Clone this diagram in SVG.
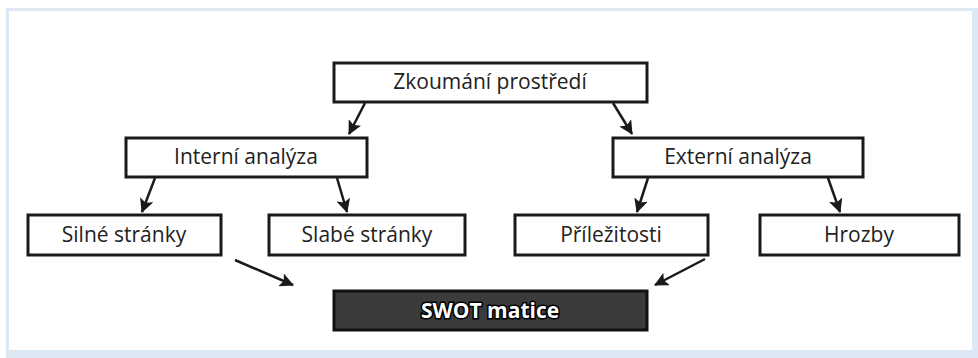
<svg xmlns="http://www.w3.org/2000/svg" width="978" height="358" viewBox="0 0 978 358">
<style>
.box{fill:#fff;stroke:#1a1a1a;stroke-width:3}
.dark{fill:#3b3b3b;stroke:#111;stroke-width:3}
.t{font-family:"Open Sans","Liberation Sans",sans-serif;font-size:21px;fill:#222;text-anchor:middle}
.tw{font-family:"Open Sans","Liberation Sans",sans-serif;font-size:21px;font-weight:bold;fill:#fff;stroke:#000;stroke-width:3;paint-order:stroke;text-anchor:middle}
.c{fill:none;stroke:#1a1a1a;stroke-width:2.5;marker-end:url(#ah)}
</style>
<defs>
<marker id="ah" viewBox="0 0 14 14" refX="13" refY="7" markerWidth="14" markerHeight="14" markerUnits="userSpaceOnUse" orient="auto">
<path d="M0,0 L14,7 L0,14 L3,7 Z" fill="#1a1a1a"/>
</marker>
</defs>
<rect x="0" y="0" width="978" height="358" fill="#fff"/>
<rect x="6" y="8" width="972" height="350" fill="#dce8f4"/>
<rect x="9" y="11" width="963" height="339" fill="#fff"/>
<g id="connectors">
<line class="c" x1="365" y1="103" x2="349" y2="134"/>
<line class="c" x1="613" y1="103" x2="632" y2="134"/>
<line class="c" x1="155" y1="178" x2="142" y2="212"/>
<line class="c" x1="337" y1="178" x2="347" y2="212"/>
<line class="c" x1="648" y1="178" x2="637" y2="212"/>
<line class="c" x1="828" y1="178" x2="840" y2="212"/>
<line class="c" x1="235" y1="260" x2="293" y2="285"/>
<line class="c" x1="705" y1="259" x2="655" y2="285"/>
</g>
<g id="zkoumani"><rect class="box" x="334" y="63" width="313" height="39"/><text class="t" x="490" y="89">Zkoumání prostředí</text></g>
<g id="interni"><rect class="box" x="126" y="138" width="241" height="39"/><text class="t" x="246" y="164">Interní analýza</text></g>
<g id="externi"><rect class="box" x="613" y="138" width="250" height="39"/><text class="t" x="738" y="164">Externí analýza</text></g>
<g id="silne"><rect class="box" x="28" y="215" width="193" height="40"/><text class="t" x="124" y="242">Silné stránky</text></g>
<g id="slabe"><rect class="box" x="269" y="215" width="196" height="40"/><text class="t" x="367" y="242">Slabé stránky</text></g>
<g id="prilezitosti"><rect class="box" x="515" y="215" width="193" height="40"/><text class="t" x="611" y="242">Příležitosti</text></g>
<g id="hrozby"><rect class="box" x="760" y="215" width="199" height="40"/><text class="t" x="859" y="242">Hrozby</text></g>
<g id="swot"><rect class="dark" x="334" y="291" width="313" height="39"/><text class="tw" x="490" y="318">SWOT matice</text></g>
</svg>
